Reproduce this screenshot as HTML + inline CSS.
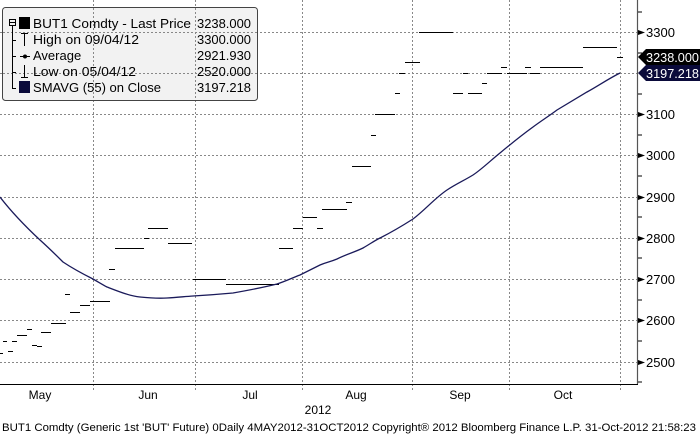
<!DOCTYPE html>
<html><head><meta charset="utf-8"><style>
html,body{margin:0;padding:0;background:#fff;}
svg{display:block;font-family:"Liberation Sans",Arial,sans-serif;}
</style></head><body>
<svg width="700" height="435" viewBox="0 0 700 435" xmlns="http://www.w3.org/2000/svg">
<rect width="700" height="435" fill="#fff"/>
<g stroke="#888" stroke-width="1" stroke-dasharray="2,2" shape-rendering="crispEdges">
<line x1="0" y1="32.5" x2="637" y2="32.5"/>
<line x1="0" y1="73.5" x2="637" y2="73.5"/>
<line x1="0" y1="114.5" x2="637" y2="114.5"/>
<line x1="0" y1="155.5" x2="637" y2="155.5"/>
<line x1="0" y1="197.5" x2="637" y2="197.5"/>
<line x1="0" y1="238.5" x2="637" y2="238.5"/>
<line x1="0" y1="279.5" x2="637" y2="279.5"/>
<line x1="0" y1="320.5" x2="637" y2="320.5"/>
<line x1="0" y1="362.5" x2="637" y2="362.5"/>
<line x1="93.5" y1="0" x2="93.5" y2="392"/>
<line x1="195.5" y1="0" x2="195.5" y2="392"/>
<line x1="302.5" y1="0" x2="302.5" y2="392"/>
<line x1="412.5" y1="0" x2="412.5" y2="392"/>
<line x1="509.5" y1="0" x2="509.5" y2="392"/>
<line x1="620.5" y1="0" x2="620.5" y2="392"/>
</g>
<g stroke="#000" stroke-width="1" shape-rendering="crispEdges" transform="translate(0,0.5)">
<line x1="0" y1="353" x2="3" y2="353"/><line x1="8" y1="351" x2="13" y2="351"/>
<line x1="3" y1="341" x2="7" y2="341"/><line x1="12" y1="341" x2="17" y2="341"/>
<line x1="17" y1="335" x2="27" y2="335"/><line x1="27" y1="329" x2="32" y2="329"/>
<line x1="32" y1="345" x2="37" y2="345"/><line x1="37" y1="346" x2="42" y2="346"/>
<line x1="41" y1="332" x2="51" y2="332"/><line x1="51" y1="323" x2="66" y2="323"/>
<line x1="65" y1="294" x2="70" y2="294"/><line x1="70" y1="312" x2="80" y2="312"/>
<line x1="80" y1="305" x2="90" y2="305"/><line x1="90" y1="301" x2="110" y2="301"/>
<line x1="109" y1="269" x2="115" y2="269"/><line x1="115" y1="248" x2="144" y2="248"/>
<line x1="144" y1="238" x2="149" y2="238"/><line x1="148" y1="228" x2="168" y2="228"/>
<line x1="168" y1="243" x2="192" y2="243"/><line x1="193" y1="279" x2="226" y2="279"/>
<line x1="226" y1="284" x2="279" y2="284"/><line x1="279" y1="248" x2="293" y2="248"/>
<line x1="293" y1="228" x2="303" y2="228"/><line x1="303" y1="217" x2="317" y2="217"/>
<line x1="317" y1="228" x2="323" y2="228"/><line x1="322" y1="209" x2="347" y2="209"/>
<line x1="346" y1="202" x2="352" y2="202"/><line x1="352" y1="166" x2="371" y2="166"/>
<line x1="371" y1="135" x2="376" y2="135"/><line x1="375" y1="114" x2="395" y2="114"/>
<line x1="395" y1="93" x2="400" y2="93"/><line x1="399" y1="73" x2="405" y2="73"/>
<line x1="405" y1="62" x2="420" y2="62"/><line x1="419" y1="32" x2="453" y2="32"/>
<line x1="453" y1="93" x2="463" y2="93"/><line x1="463" y1="73" x2="468" y2="73"/>
<line x1="468" y1="93" x2="482" y2="93"/><line x1="482" y1="83" x2="487" y2="83"/>
<line x1="487" y1="73" x2="502" y2="73"/><line x1="501" y1="67" x2="507" y2="67"/>
<line x1="507" y1="73" x2="527" y2="73"/><line x1="525" y1="67" x2="531" y2="67"/>
<line x1="530" y1="73" x2="540" y2="73"/><line x1="540" y1="67" x2="583" y2="67"/>
<line x1="583" y1="47" x2="617" y2="47"/><line x1="617" y1="57" x2="623" y2="57"/>
</g>
<path fill="none" stroke="#1a1a5a" stroke-width="1.3" d="M0,197 C10,210 25,226 40,240 C50,249 55,254 63,262 C75,270 85,275 93,279 C100,283 103,285 107,287 C120,292 130,296 140,297 C150,298 158,298.5 167,298 C177,297.5 185,296.5 193,296 C210,295 222,294 233,293 C250,290 265,287 277,284 C286,281 292,278 300,275 C308,271 314,268 320,265 C327,262 330,262 337,259 C347,254 355,252 363,248 C370,244 374,241 380,238 C392,232 402,226 413,219 C425,210 435,198 447,190 C456,184 465,180 473,175 C482,169 490,161 500,153 C512,143 522,135 533,127 C541,121 549,116 557,110 C567,104 577,98 587,92 C598,86 608,79 620,73"/>
<line x1="637.5" y1="0" x2="637.5" y2="384" stroke="#555" stroke-width="1.2"/>
<line x1="0" y1="384.5" x2="638" y2="384.5" stroke="#000" stroke-width="1"/>
<g stroke="#000" stroke-width="1">
<line x1="638" y1="12" x2="642" y2="12"/><line x1="638" y1="53" x2="642" y2="53"/>
<line x1="638" y1="94" x2="642" y2="94"/><line x1="638" y1="135" x2="642" y2="135"/>
<line x1="638" y1="176" x2="642" y2="176"/><line x1="638" y1="217" x2="642" y2="217"/>
<line x1="638" y1="258" x2="642" y2="258"/><line x1="638" y1="300" x2="642" y2="300"/>
<line x1="638" y1="341" x2="642" y2="341"/><line x1="638" y1="382" x2="642" y2="382"/>
</g>
<g fill="#000">
<polygon points="638,30 645,32.5 638,35"/><polygon points="638,112 645,114.5 638,117"/>
<polygon points="638,153 645,155.5 638,158"/><polygon points="638,195 645,197.5 638,200"/>
<polygon points="638,236 645,238.5 638,241"/><polygon points="638,277 645,279.5 638,282"/>
<polygon points="638,318 645,320.5 638,323"/><polygon points="638,360 645,362.5 638,365"/>
</g>
<g font-size="13" fill="#000">
<text x="646" y="37">3300</text><text x="646" y="119">3100</text>
<text x="646" y="160">3000</text><text x="646" y="202">2900</text>
<text x="646" y="243">2800</text><text x="646" y="284">2700</text>
<text x="646" y="325">2600</text><text x="646" y="367">2500</text>
</g>
<polygon points="638,57 646,49 700,49 700,65 646,65" fill="#000"/>
<text x="646" y="62" font-size="13" fill="#fff" textLength="53" lengthAdjust="spacingAndGlyphs">3238.000</text>
<polygon points="638,73 646,65 700,65 700,81 646,81" fill="#0a0a3a"/>
<text x="646" y="78" font-size="13" fill="#fff" textLength="53" lengthAdjust="spacingAndGlyphs">3197.218</text>
<g font-size="12" fill="#000" text-anchor="middle">
<text x="40" y="399">May</text><text x="148" y="399">Jun</text>
<text x="250" y="399">Jul</text><text x="356" y="399">Aug</text>
<text x="460" y="399">Sep</text><text x="563" y="399">Oct</text>
<text x="318" y="414">2012</text>
</g>
<text x="2" y="431" font-size="11" fill="#000" textLength="694" lengthAdjust="spacingAndGlyphs">BUT1 Comdty (Generic 1st 'BUT' Future) 0Daily 4MAY2012-31OCT2012  Copyright® 2012 Bloomberg Finance L.P. 31-Oct-2012 21:58:23</text>
<rect x="2.5" y="7.5" width="255" height="93" rx="3" fill="#f2f2f2" stroke="#444" stroke-width="1"/>
<g stroke="#888" stroke-width="1" stroke-dasharray="2,2" shape-rendering="crispEdges">
<line x1="93.5" y1="8" x2="93.5" y2="100"/><line x1="195.5" y1="8" x2="195.5" y2="100"/>
<line x1="3" y1="32.5" x2="257" y2="32.5"/><line x1="3" y1="73.5" x2="257" y2="73.5"/>
</g>
<g stroke="#000" stroke-width="1" fill="none">
<rect x="9.5" y="19.5" width="6" height="6"/><line x1="10" y1="22.5" x2="15" y2="22.5"/>
<line x1="12.5" y1="26" x2="12.5" y2="88"/>
<line x1="12" y1="40.5" x2="16" y2="40.5"/><line x1="12" y1="56.5" x2="16" y2="56.5"/>
<line x1="12" y1="72.5" x2="16" y2="72.5"/><line x1="12" y1="88.5" x2="16" y2="88.5"/>
<line x1="21" y1="33.5" x2="28" y2="33.5"/><line x1="24.5" y1="33" x2="24.5" y2="46"/>
<line x1="20" y1="56.5" x2="30" y2="56.5"/>
<line x1="21" y1="77.5" x2="28" y2="77.5"/><line x1="24.5" y1="65" x2="24.5" y2="78"/>
</g>
<circle cx="25" cy="56.5" r="2" fill="#000"/>
<rect x="19" y="17" width="11" height="12" fill="#000"/>
<rect x="19" y="81" width="11" height="12" fill="#0a0a3a"/>
<g font-size="13" fill="#000">
<text x="33" y="28" textLength="158" lengthAdjust="spacingAndGlyphs">BUT1 Comdty - Last Price</text>
<text x="33" y="44" textLength="106" lengthAdjust="spacingAndGlyphs">High on 09/04/12</text>
<text x="33" y="60">Average</text>
<text x="33" y="76" textLength="103" lengthAdjust="spacingAndGlyphs">Low on 05/04/12</text>
<text x="33" y="92" textLength="128" lengthAdjust="spacingAndGlyphs">SMAVG (55) on Close</text>
<text x="197" y="28" textLength="54" lengthAdjust="spacingAndGlyphs">3238.000</text>
<text x="197" y="44" textLength="54" lengthAdjust="spacingAndGlyphs">3300.000</text>
<text x="197" y="60" textLength="54" lengthAdjust="spacingAndGlyphs">2921.930</text>
<text x="197" y="76" textLength="54" lengthAdjust="spacingAndGlyphs">2520.000</text>
<text x="197" y="92" textLength="54" lengthAdjust="spacingAndGlyphs">3197.218</text>
</g>
</svg>
</body></html>
